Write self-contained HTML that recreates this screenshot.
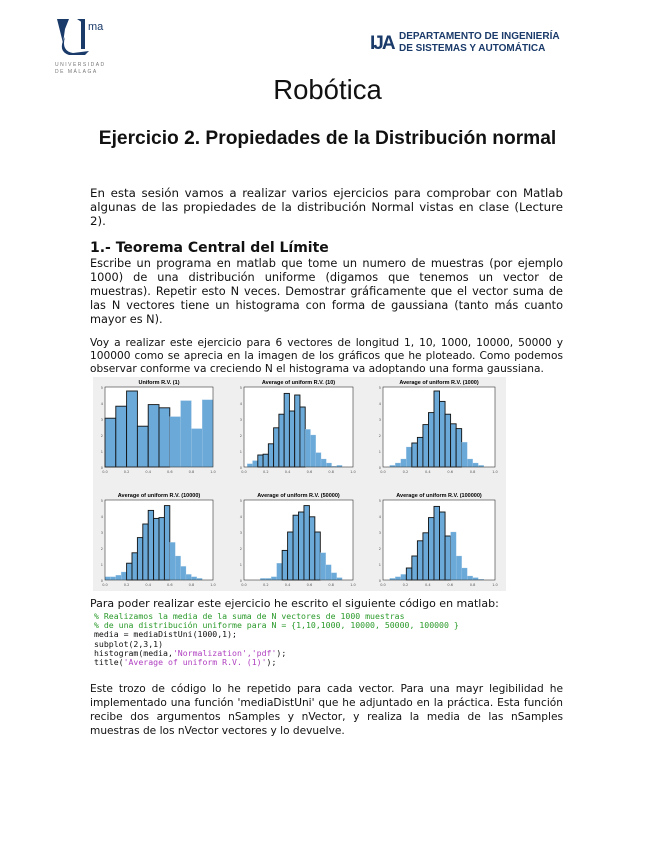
<!DOCTYPE html>
<html><head><meta charset="utf-8"><style>
body{margin:0;background:#fff;width:655px;height:848px;position:relative;overflow:hidden;font-family:"DejaVu Sans","Liberation Sans",sans-serif;color:#111}
.t{position:absolute;white-space:nowrap}
.p{position:absolute;left:90px;width:473px;font-size:11.3px;line-height:14px;text-align:justify}
.code{position:absolute;left:94px;font-family:"DejaVu Sans Mono","Liberation Mono",monospace;font-size:8.2px;line-height:9.2px;white-space:pre}
.g{color:#2a9a2a}.m{color:#b040c0}
</style></head><body>
<svg class="t" style="left:55px;top:15px" width="60" height="60">
<path d="M2 4 L14 4 L10 14 L8 28 Z" fill="#1a3a6a"/><path d="M10 22 Q6 36 18 38 L34 36 L30 40 L14 40 Q2 36 10 22Z" fill="#1a3a6a"/>
<rect x="26" y="4" width="4" height="30" fill="#1a3a6a"/><path d="M22 4 L30 4 L28 8Z" fill="#1a3a6a"/>
<text x="33" y="15" font-size="11" fill="#1a3a6a" font-family="Liberation Sans">ma</text>
<text x="0" y="51" font-size="5" fill="#777" letter-spacing="1.5" font-family="Liberation Sans">UNIVERSIDAD</text>
<text x="0" y="58" font-size="5" fill="#777" letter-spacing="1.5" font-family="Liberation Sans">DE MÁLAGA</text></svg>
<div class="t" style="left:370px;top:33px;font:bold 19px 'Liberation Sans';color:#1a3a6a;letter-spacing:-2px">IJA</div>
<div class="t" style="left:399px;top:31px;font:bold 10px/12px 'Liberation Sans',sans-serif;color:#1a3a6a">DEPARTAMENTO DE INGENIERÍA<br>DE SISTEMAS Y AUTOMÁTICA</div>
<div class="t" style="left:0;width:655px;text-align:center;top:74px;font:27.5px 'Liberation Sans',sans-serif">Robótica</div>
<div class="t" style="left:0;width:655px;text-align:center;top:128px;font:bold 19.2px 'Liberation Sans',sans-serif">Ejercicio 2. Propiedades de la Distribución normal</div>
<div class="p" style="top:186px;font-size:11.8px">En esta sesión vamos a realizar varios ejercicios para comprobar con Matlab algunas de las propiedades de la distribución Normal vistas en clase (Lecture 2).</div>
<div class="t" style="left:90px;top:240px;font-weight:bold;font-size:14px">1.- Teorema Central del Límite</div>
<div class="p" style="top:257px">Escribe un programa en matlab que tome un numero de muestras (por ejemplo 1000) de una distribución uniforme (digamos que tenemos un vector de muestras). Repetir esto N veces. Demostrar gráficamente que el vector suma de las N vectores tiene un histograma con forma de gaussiana (tanto más cuanto mayor es N).</div>
<div class="p" style="top:337px;font-size:10.6px;line-height:13px">Voy a realizar este ejercicio para 6 vectores de longitud 1, 10, 1000, 10000, 50000 y 100000 como se aprecia en la imagen de los gráficos que he ploteado. Como podemos observar conforme va creciendo N el histograma va adoptando una forma gaussiana.</div>
<svg id="ch" class="t" style="left:93px;top:377px" width="413" height="214"></svg>
<div class="t" style="left:90px;top:597px;font-size:11px">Para poder realizar este ejercicio he escrito el siguiente código en matlab:</div>
<div class="code" style="top:612px"><span class="g">% Realizamos la media de la suma de N vectores de 1000 muestras</span>
<span class="g">% de una distribución uniforme para N = {1,10,1000, 10000, 50000, 100000 }</span>
media = mediaDistUni(1000,1);
subplot(2,3,1)
histogram(media,<span class="m">'Normalization','pdf'</span>);
title(<span class="m">'Average of uniform R.V. (1)'</span>);</div>
<div class="p" style="top:682px;font-size:10.6px;line-height:14px">Este trozo de código lo he repetido para cada vector. Para una mayr legibilidad he implementado una función 'mediaDistUni' que he adjuntado en la práctica. Esta función recibe dos argumentos nSamples y nVector, y realiza la media de las nSamples muestras de los nVector vectores y lo devuelve.</div>
<script>
var s='<rect width="413" height="214" fill="#efefef"/>';
var P=[
[12,10,108,80,'Uniform R.V. (1)',[.61,.76,.95,.51,.78,.74,.63,.83,.48,.84],0,0,6],
[151,10,109,80,'Average of uniform R.V. (10)',[.04,.08,.15,.16,.29,.49,.66,.92,.7,.9,.75,.47,.4,.18,.1,.05,.01,.02],.03,2,11],
[290,10,112,80,'Average of uniform R.V. (1000)',[.02,.05,.1,.25,.3,.37,.53,.68,.95,.82,.66,.54,.48,.31,.1,.05,.02],.06,4,13],
[12,123,108,80,'Average of uniform R.V. (10000)',[.04,.04,.06,.1,.21,.34,.53,.7,.87,.77,.78,.93,.47,.3,.17,.07,.04,.02],0,4,12],
[151,123,109,80,'Average of uniform R.V. (50000)',[.02,.02,.04,.21,.37,.6,.81,.85,.93,.79,.6,.34,.19,.09,.03],.15,4,11],
[290,123,112,80,'Average of uniform R.V. (100000)',[.02,.04,.07,.15,.3,.49,.59,.78,.92,.85,.55,.6,.3,.15,.05,.03,.01],.06,3,11]];
P.forEach(function(p){var x=p[0],y=p[1],w=p[2],h=p[3],b=p[5],n=b.length,off=p[6]*w,bw=(w-off-(p===P[0]?0:w*.1))/n;
s+='<rect x="'+x+'" y="'+y+'" width="'+w+'" height="'+h+'" fill="#fff"/>';
b.forEach(function(v,i){var bx=x+off+i*bw,bh=v*h;s+='<rect x="'+bx+'" y="'+(y+h-bh)+'" width="'+bw+'" height="'+bh+'" fill="#6aa9d8" stroke="#a8cbe8" stroke-width=".3"/>';
if(i>=p[7]&&i<p[8])s+='<rect x="'+bx+'" y="'+(y+h-bh)+'" width="'+bw+'" height="'+bh+'" fill="none" stroke="#111" stroke-width=".9"/>';});
s+='<rect x="'+x+'" y="'+y+'" width="'+w+'" height="'+h+'" fill="none" stroke="#333" stroke-width=".6"/>';
s+='<text x="'+(x+w/2)+'" y="'+(y-3)+'" text-anchor="middle" font-size="5.5" font-weight="bold" font-family="Liberation Sans">'+p[4]+'</text>';
for(var k=0;k<=5;k++){s+='<text x="'+(x-2)+'" y="'+(y+h-k*h/5+2)+'" text-anchor="end" font-size="3.5" fill="#555">'+k+'</text>';s+='<text x="'+(x+k*w/5)+'" y="'+(y+h+6)+'" text-anchor="middle" font-size="3.5" fill="#555">'+(k/5).toFixed(1)+'</text>';}
});
document.getElementById('ch').innerHTML=s;
</script>
</body></html>
